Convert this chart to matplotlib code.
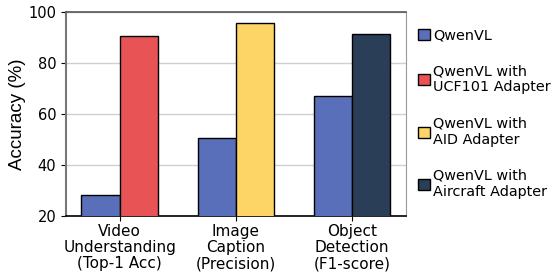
import numpy as np
import matplotlib.pyplot as plt
from matplotlib.patches import Patch

tasks = ["Video\nUnderstanding\n(Top-1 Acc)", "Image\nCaption\n(Precision)", "Object\nDetection\n(F1-score)"]
base_vals = [28.3, 50.6, 67.0]
adapter_vals = [90.7, 95.9, 91.7]
adapter_colors = ["#E85456", "#FDD466", "#2B3E58"]
base_color = "#5A6FBA"
legend_labels = ["QwenVL", "QwenVL with\nUCF101 Adapter", "QwenVL with\nAID Adapter", "QwenVL with\nAircraft Adapter"]

fig = plt.figure(figsize=(5.55, 2.75), dpi=100)
ax = fig.add_axes([0.119, 0.2145, 0.612, 0.7405])

x = np.arange(len(tasks))
w = 0.33
ax.bar(x - w / 2, base_vals, w, color=base_color, edgecolor="black", linewidth=1.0, zorder=3)
for i in range(len(tasks)):
    ax.bar(x[i] + w / 2, adapter_vals[i], w, color=adapter_colors[i], edgecolor="black", linewidth=1.0, zorder=3)

ax.set_ylim(20, 100)
ax.set_yticks([20, 40, 60, 80, 100])
ax.set_xticks(x)
ax.set_xticklabels(tasks, fontsize=11, linespacing=1.08)
ax.tick_params(axis="x", pad=2.5)
ax.tick_params(axis="y", labelsize=10.5)
ax.set_ylabel("Accuracy (%)", fontsize=13.5, family="Liberation Sans", labelpad=2)
ax.yaxis.grid(True, color="#d0d0d0", linewidth=1.0, zorder=0)
ax.set_axisbelow(True)

ax.spines["left"].set_color("#777777")
ax.spines["left"].set_linewidth(1.5)
ax.spines["top"].set_color("#555555")
ax.spines["top"].set_linewidth(1.2)
ax.spines["right"].set_color("#999999")
ax.spines["right"].set_linewidth(0.8)
ax.spines["bottom"].set_color("black")
ax.spines["bottom"].set_linewidth(1.2)

handles = [Patch(facecolor=c, edgecolor="black", linewidth=1.0) for c in [base_color] + adapter_colors]
ax.legend(handles, legend_labels, loc="upper left", bbox_to_anchor=(1.02, 0.95), frameon=False,
          fontsize=10.4, labelspacing=1.52, handlelength=0.8, handleheight=0.8, handletextpad=0.25,
          borderaxespad=0)

fig.savefig("out.png", dpi=100)
